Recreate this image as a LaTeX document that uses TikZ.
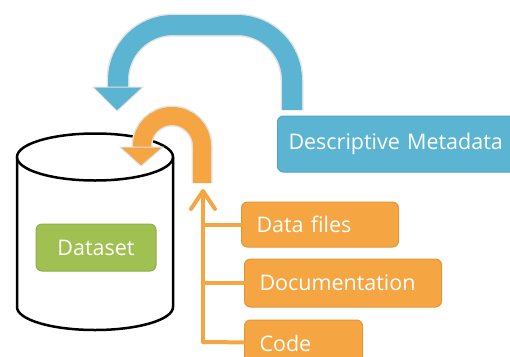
\documentclass[tikz,border=0pt]{standalone}
\usepackage{fontspec}
\setmainfont{Open Sans}
\usetikzlibrary{arrows.meta}
\definecolor{metablue}{HTML}{5BB5D2}
\definecolor{metaedge}{HTML}{4FA6C2}
\definecolor{fileorange}{HTML}{F5A541}
\definecolor{fileedge}{HTML}{E2963A}
\definecolor{setgreen}{HTML}{A0C052}
\definecolor{setedge}{HTML}{8EAD45}
\begin{document}
\begin{tikzpicture}[
    x=1pt, y=-1pt,
    tag/.style={
        rectangle,
        rounded corners=6pt,
        line width=1pt,
        text=white,
        font=\fontsize{21.5}{24}\selectfont
    },
    filebox/.style={tag, draw=fileedge, fill=fileorange, anchor=west,
        inner xsep=15pt, align=left, text width=#1},
    store/.style={draw=black, line width=2.5pt, fill=white},
    band/.style={line width=#1, line cap=butt,
        preaction={draw=gray!22, line width=#1+3pt}},
    head/.style={draw=gray!25, line width=1pt, line join=miter},
    trunk/.style={draw=fileorange, line width=4pt, line cap=round}
]
    \useasboundingbox (0,0) rectangle (510,356);

    % Cilindro del dataset
    \draw[store] (17,157) -- (17,307)
        arc[start angle=180, end angle=0, x radius=78, y radius=23] -- (173,157);
    \draw[store] (95,157) ellipse [x radius=78, y radius=23.5];
    \node[tag, draw=setedge, fill=setgreen, minimum width=120pt,
        minimum height=47pt] (dataset) at (96,247.5) {Dataset};

    % Metadati
    \node[tag, draw=metaedge, fill=metablue, anchor=west, inner xsep=11pt,
        align=left, text width=240pt, minimum height=56pt]
        (meta) at (277,144) {Descriptive Metadata};

    % Freccia blu
    \coordinate (bstart) at (292,110);
    \coordinate (bend) at (118,87);
    \draw[band=20pt, draw=metablue, rounded corners=55pt]
        (bstart) -- (292,25) -- (118,25) -- (bend);
    \filldraw[head, fill=metablue] (93,87) -- (143,87) -- (117,111) -- cycle;

    % Freccia arancione
    \coordinate (ostart) at (202,183);
    \coordinate (oend) at (142,147);
    \draw[band=18pt, draw=fileorange, rounded corners=30pt]
        (ostart) -- (202,116) -- (142,116) -- (oend);
    \filldraw[head, fill=fileorange] (120,147) -- (163,147) -- (141,166) -- cycle;

    % Componenti
    \node[filebox=127pt, minimum height=45pt] (dfiles) at (241,224.5) {Data files};
    \node[filebox=167pt, minimum height=48pt] (docs) at (244,283) {Documentation};
    \node[filebox=88pt, minimum height=46pt] (code) at (244,343) {Code};

    % Connessioni
    \coordinate (base) at (203,342);
    \coordinate (tip) at (203,189);
    \draw[trunk, -{Straight Barb[length=18pt, width=24pt, round]}] (base) -- (tip);
    \draw[trunk] (base |- dfiles) -- (dfiles);
    \draw[trunk] (base |- docs) -- (docs);
    \draw[trunk] (base) -- (code);
\end{tikzpicture}
\end{document}
